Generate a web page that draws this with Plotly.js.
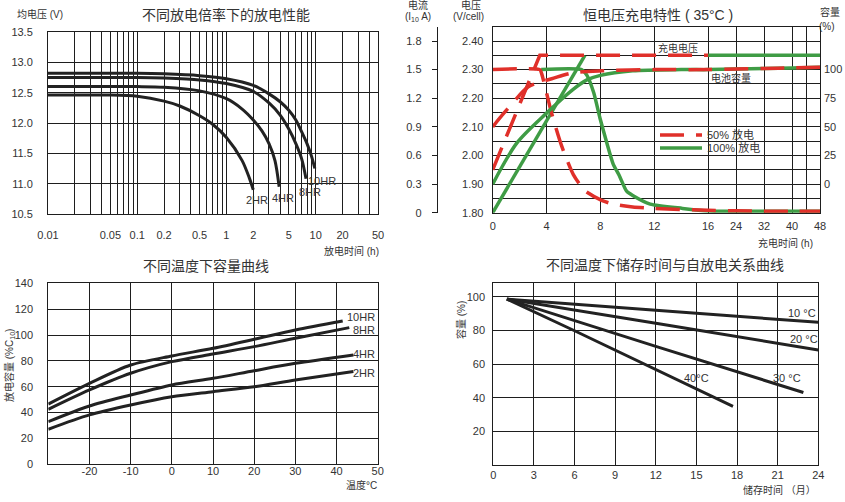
<!DOCTYPE html>
<html><head><meta charset="utf-8">
<script src="https://cdn.plot.ly/plotly-3.0.1.min.js"></script>
<style>html,body{margin:0;padding:0;background:#fff}#chart{width:845px;height:502px}</style>
</head><body><div id="chart"></div>
<script>
// ---------- Chart 1: 不同放电倍率下的放电性能 (log time axis) ----------
const hr10Time = [0.01, 0.1, 0.2, 0.5, 1, 2, 3, 4, 5, 6, 7, 8, 9, 9.8];
const hr10Volt = [12.82, 12.82, 12.81, 12.78, 12.73, 12.62, 12.48, 12.35, 12.21, 12.05, 11.85, 11.66, 11.45, 11.25];
const hr8Time = [0.01, 0.1, 0.2, 0.5, 1, 2, 3, 4, 5, 6, 7, 7.8];
const hr8Volt = [12.75, 12.75, 12.74, 12.71, 12.65, 12.52, 12.33, 12.13, 11.9, 11.66, 11.4, 11.08];
const hr4Time = [0.01, 0.1, 0.2, 0.5, 1, 1.5, 2, 2.5, 3, 3.5, 3.9];
const hr4Volt = [12.6, 12.6, 12.59, 12.53, 12.4, 12.23, 12.05, 11.87, 11.66, 11.38, 10.95];
const hr2Time = [0.01, 0.05, 0.1, 0.2, 0.3, 0.5, 0.7, 1, 1.5, 1.8, 2];
const hr2Volt = [12.46, 12.46, 12.44, 12.36, 12.28, 12.12, 11.98, 11.76, 11.38, 11.1, 10.9];
const logLabelVals = [0.01, 0.05, 0.1, 0.2, 0.5, 1, 2, 5, 10, 20, 50];
const logLabels = ['0.01', '0.05', '0.1', '0.2', '0.5', '1', '2', '5', '10', '20', '50'];
const logMinorGrid = [0.02,0.03,0.04,0.06,0.07,0.08,0.09,0.3,0.4,0.6,0.7,0.8,0.9,3,4,6,7,8,9,30,40];
const voltTicks1 = [10.5, 11.0, 11.5, 12.0, 12.5, 13.0, 13.5];

// ---------- Chart 2: 恒电压充电特性 (35°C) ----------
// 50% discharge (red dashed)
const r50VoltT = [0, 3.5, 16];
const r50Volt = [1.95, 2.35, 2.35];
const r50CurT = [0, 3.5, 3.63, 4.38, 5.12, 5.99, 6.85, 8.09, 8.95, 10.4, 12, 16, 24, 32, 40, 48];
const r50Cur = [1.5, 1.5, 1.46, 1.04, 0.70, 0.40, 0.23, 0.13, 0.09, 0.06, 0.045, 0.025, 0.02, 0.015, 0.015, 0.015];
const r50CapT = [0, 0.91, 2.64, 3.5, 4.38, 5.86, 8.09, 12, 16, 24, 32, 40, 48];
const r50Cap = [50, 63, 85, 89, 92, 97, 99, 100, 100, 100.5, 101, 101.5, 102];
// 100% discharge (green solid)
const g100VoltT = [0, 6.85, null, 16, 48];
const g100Volt = [1.80, 2.35, null, 2.35, 2.35];
const g100CurT = [3.6, 6.6, 7.0, 7.5, 7.97, 8.5, 8.95, 9.4, 9.95, 10.4, 11.7, 14.1, 16, 24, 32, 40, 48];
const g100Cur = [1.5, 1.5, 1.44, 1.26, 0.99, 0.72, 0.51, 0.39, 0.225, 0.18, 0.09, 0.045, 0.018, 0.015, 0.015, 0.015, 0.015];
const g100CapT = [0, 1.8, 4, 6, 7, 8, 10.4, 14, 16, 24, 32, 40, 48];
const g100Cap = [0, 36, 62, 83, 91, 95, 99, 100, 100, 100.5, 101, 101.5, 102];
const chargeTimeTicks = [0, 4, 8, 12, 16, 24, 32, 40, 48];
const chargeTimeLabels = ['0', '4', '8', '12', '16', '24', '32', '40', '48'];
const chargeTimeMinor = [44];
const cellVoltTicks = [1.80, 1.90, 2.00, 2.10, 2.20, 2.30, 2.40];
const cellVoltLabels = ['1.80', '1.90', '2.00', '2.10', '2.20', '2.30', '2.40'];
const cellVoltMinor = [1.85, 1.95, 2.05, 2.15, 2.25, 2.35];
const currentTicks = [0, 0.3, 0.6, 0.9, 1.2, 1.5, 1.8];
const currentLabels = ['0', '0.3', '0.6', '0.9', '1.2', '1.5', '1.8'];
const capTicks = [0, 25, 50, 75, 100];

// ---------- Chart 3: 不同温度下容量曲线 ----------
const tempC = [-30, -20, -10, 0, 10, 20, 30];
const cap10HR = [46.6, 62.6, 76.8, 83.8, 89.7, 96.7, 103.9];
const cap8HR = [42.5, 57.5, 70.4, 79.4, 85.3, 91.0, 97.5];
const cap4HR = [33.0, 45.1, 53.6, 61.4, 66.5, 72.4, 78.1];
const cap2HR = [27.1, 38.2, 45.9, 52.3, 56.2, 60.0, 65.2];
const end10HR = [41.5, 110.9], end8HR = [43.1, 105.7], end4HR = [44.1, 84.6], end2HR = [44.1, 71.7];
const tempTicks = [-20, -10, 0, 10, 20, 30, 40, 50];
const tempLabels = ['-20', '-10', '0', '10', '20', '30', '40', '50'];

// ---------- Chart 4: 不同温度下储存时间与自放电关系曲线 ----------
const s10Month = [1, 12, 24], s10Cap = [98.6, 92.0, 84.8];
const s20Month = [1, 12, 24], s20Cap = [98.6, 84.2, 68.4];
const s30Month = [1, 12, 22.9], s30Cap = [98.6, 70.5, 43.1];
const s40Month = [1, 6, 17.7], s40Cap = [98.6, 79.8, 34.8];
const storeTicks = [0, 3, 6, 9, 12, 15, 18, 21, 24];
const storeCapTicks = [20, 40, 60, 80, 100];

// ---------- helpers ----------
const W = 845, H = 502;
const px = x => x / W, py = y => 1 - y / H;
const COMPRESS = 3.85;   // time axis after 16h is compressed
const tpos = t => (t === null ? null : (t <= 16 ? t : 16 + (t - 16) / COMPRESS));
const FONT = 'Liberation Sans, Arial, "Noto Sans CJK SC", sans-serif';
const INK = '#1e1e1e', TXT = '#333';
const RED = '#e0302a', GREEN = '#3f9c45';

const black = (x, y, xa, ya) => ({x, y, xaxis: xa, yaxis: ya, mode: 'lines', type: 'scatter',
  line: {color: '#222', width: 3, shape: 'spline', smoothing: 0.8}, showlegend: false, hoverinfo: 'skip'});

const traces = [
  black(hr10Time, hr10Volt, 'x', 'y'),
  black(hr8Time, hr8Volt, 'x', 'y'),
  black(hr4Time, hr4Volt, 'x', 'y'),
  black(hr2Time, hr2Volt, 'x', 'y'),
  // chart 2 green first (below red)
  {x: g100VoltT.map(tpos), y: g100Volt, xaxis: 'x2', yaxis: 'y2', mode: 'lines', connectgaps: false,
   line: {color: GREEN, width: 3.5}, showlegend: false},
  {x: g100CurT.map(tpos), y: g100Cur, xaxis: 'x2', yaxis: 'y5', mode: 'lines',
   line: {color: GREEN, width: 3.5, shape: 'spline', smoothing: 0.6}, showlegend: false},
  {x: g100CapT.map(tpos), y: g100Cap, xaxis: 'x2', yaxis: 'y7', mode: 'lines',
   line: {color: GREEN, width: 3.5, shape: 'spline', smoothing: 0.8}, name: '100% 放电', showlegend: true, legend: 'legend2'},
  {x: r50VoltT.map(tpos), y: r50Volt, xaxis: 'x2', yaxis: 'y2', mode: 'lines',
   line: {color: RED, width: 3.5, dash: '24px,12px'}, showlegend: false},
  {x: r50CurT.map(tpos), y: r50Cur, xaxis: 'x2', yaxis: 'y5', mode: 'lines',
   line: {color: RED, width: 3.5, dash: '24px,12px', shape: 'spline', smoothing: 0.6}, showlegend: false},
  {x: r50CapT.map(tpos), y: r50Cap, xaxis: 'x2', yaxis: 'y7', mode: 'lines',
   line: {color: RED, width: 3.5, dash: '24px,12px', shape: 'spline', smoothing: 0.8}, name: '50% 放电', showlegend: true, legend: 'legend'},
  // chart 3
  black(tempC.concat([end10HR[0]]), cap10HR.concat([end10HR[1]]), 'x3', 'y3'),
  black(tempC.concat([end8HR[0]]), cap8HR.concat([end8HR[1]]), 'x3', 'y3'),
  black(tempC.concat([end4HR[0]]), cap4HR.concat([end4HR[1]]), 'x3', 'y3'),
  black(tempC.concat([end2HR[0]]), cap2HR.concat([end2HR[1]]), 'x3', 'y3'),
  // chart 4
  black(s10Month, s10Cap, 'x4', 'y4'),
  black(s20Month, s20Cap, 'x4', 'y4'),
  black(s30Month, s30Cap, 'x4', 'y4'),
  black(s40Month, s40Cap, 'x4', 'y4'),
];

const base = {showgrid: true, gridcolor: INK, gridwidth: 1, showline: true, linecolor: INK, linewidth: 1,
  mirror: true, zeroline: false, ticks: '', tickfont: {size: 11, color: TXT, family: FONT}, fixedrange: true};
const minorGrid = vals => ({tickmode: 'array', tickvals: vals, showgrid: true, gridcolor: INK, gridwidth: 1, ticks: ''});

const layout = {
  width: W, height: H, margin: {l: 0, r: 0, t: 0, b: 0},
  paper_bgcolor: '#fff', plot_bgcolor: 'rgba(0,0,0,0)',
  font: {family: FONT, color: TXT, size: 11},
  showlegend: true,
  legend: {x: px(655), y: py(135), xanchor: 'left', yanchor: 'middle', bgcolor: 'rgba(0,0,0,0)',
    itemwidth: 42, font: {size: 11, color: TXT}, borderwidth: 0, tracegroupgap: 0},
  legend2: {x: px(655), y: py(148), xanchor: 'left', yanchor: 'middle', bgcolor: 'rgba(0,0,0,0)',
    itemwidth: 42, font: {size: 11, color: TXT}, borderwidth: 0, tracegroupgap: 0},
  // chart 1
  xaxis: Object.assign({}, base, {type: 'log', domain: [px(48), px(378)], anchor: 'y',
    range: [Math.log10(0.01), Math.log10(50)], tickmode: 'array', tickvals: logLabelVals,
    ticktext: logLabels, ticklabelstandoff: 11, minor: minorGrid(logMinorGrid)}),
  yaxis: Object.assign({}, base, {domain: [py(214), py(32)], anchor: 'x', range: [10.5, 13.5],
    tickmode: 'array', tickvals: voltTicks1, ticktext: voltTicks1.map(v => v.toFixed(1)), ticklabelstandoff: 12}),
  // chart 2
  xaxis2: Object.assign({}, base, {domain: [px(492.7), px(820)], anchor: 'y2',
    range: [0, tpos(48)], tickmode: 'array', tickvals: chargeTimeTicks.map(tpos), ticktext: chargeTimeLabels,
    ticklabelstandoff: 3, minor: minorGrid(chargeTimeMinor.map(tpos))}),
  yaxis2: Object.assign({}, base, {domain: [py(212.7), py(26.7)], anchor: 'x2', range: [1.80, 2.45],
    tickmode: 'array', tickvals: cellVoltTicks, ticktext: cellVoltLabels, ticklabelstandoff: 6,
    minor: minorGrid(cellVoltMinor)}),
  yaxis5: {overlaying: 'y2', anchor: 'free', position: px(436.7), side: 'left', range: [0, 1.95],
    tickmode: 'array', tickvals: currentTicks, ticktext: currentLabels, showgrid: false, zeroline: false,
    showline: true, linecolor: INK, linewidth: 1, ticks: 'outside', ticklen: 5, tickcolor: INK, tickwidth: 1,
    tickfont: {size: 11, color: TXT}, ticklabelstandoff: 8, fixedrange: true},
  yaxis6: {overlaying: 'y2', anchor: 'free', position: px(436.7), side: 'left', range: [0, 1.95],
    tickmode: 'array', tickvals: currentTicks, showticklabels: false, showgrid: false, zeroline: false,
    showline: false, ticks: 'inside', ticklen: 5, tickcolor: INK, tickwidth: 1, fixedrange: true},
  yaxis7: {overlaying: 'y2', anchor: 'x2', side: 'right', range: [-25, 137.5], tickmode: 'array',
    tickvals: capTicks, ticktext: capTicks.map(String), showgrid: false, zeroline: false, showline: false,
    ticks: '', tickfont: {size: 11, color: TXT}, ticklabelstandoff: 3, fixedrange: true},
  // chart 3
  xaxis3: Object.assign({}, base, {domain: [px(48.3), px(377.7)], anchor: 'y3', range: [-30, 50],
    tickmode: 'array', tickvals: tempTicks, ticktext: tempLabels, ticklabelstandoff: -4}),
  yaxis3: Object.assign({}, base, {domain: [py(464.3), py(283.3)], anchor: 'x3', range: [0, 140],
    dtick: 20, ticklabelstandoff: 12}),
  // chart 4
  xaxis4: Object.assign({}, base, {domain: [px(493.3), px(818.3)], anchor: 'y4', range: [0, 24],
    tickmode: 'array', tickvals: storeTicks, ticktext: storeTicks.map(String), ticklabelstandoff: 0}),
  yaxis4: Object.assign({}, base, {domain: [py(465), py(283.3)], anchor: 'x4', range: [0, 108],
    tickmode: 'array', tickvals: storeCapTicks, ticktext: storeCapTicks.map(String), ticklabelstandoff: 5}),
  annotations: []
};

function ann(text, x, y, opt) {
  layout.annotations.push(Object.assign({text, x: px(x), y: py(y), xref: 'paper', yref: 'paper',
    showarrow: false, xanchor: 'center', yanchor: 'middle', font: {size: 11, color: TXT}}, opt || {}));
}
// titles
ann('不同放电倍率下的放电性能', 226, 15, {font: {size: 14, color: TXT}});
ann('恒电压充电特性 ( 35°C )', 658, 15, {font: {size: 14, color: TXT}});
ann('不同温度下容量曲线', 206, 266, {font: {size: 14, color: TXT}});
ann('不同温度下储存时间与自放电关系曲线', 665, 265, {font: {size: 14, color: TXT}});
// chart 1 texts
ann('均电压 (V)', 15, 14, {xanchor: 'left', font: {size: 10, color: TXT}});
ann('放电时间 (h)', 381, 251, {xanchor: 'right', font: {size: 10, color: TXT}});
ann('2HR', 257, 200); ann('4HR', 283, 198); ann('8HR', 310, 192); ann('10HR', 322, 181);
// chart 2 texts
ann('电流', 418, 5, {font: {size: 10, color: TXT}});
ann('(I<sub>10</sub> A)', 418, 17, {font: {size: 10, color: TXT}});
ann('电压', 471, 5, {font: {size: 10, color: TXT}});
ann('(V/cell)', 468, 17, {font: {size: 10, color: TXT}});
ann('容量', 830, 12, {font: {size: 10, color: TXT}});
ann('(%)', 827, 27, {font: {size: 10, color: TXT}});
ann('充电电压', 678, 48, {font: {size: 10, color: TXT}});
ann('电池容量', 731, 78, {font: {size: 10, color: TXT}});
ann('充电时间 (h)', 815, 243, {xanchor: 'right', font: {size: 10, color: TXT}});
// chart 3 texts
ann('放电容量 (%C<sub>10</sub>)', 9, 366, {textangle: -90, font: {size: 10, color: TXT}});
ann('温度°C', 379, 485, {xanchor: 'right', font: {size: 10, color: TXT}});
ann('10HR', 361, 317); ann('8HR', 364, 330); ann('4HR', 364, 354); ann('2HR', 364, 373);
// chart 4 texts
ann('容量 (%)', 461, 320, {textangle: -90, font: {size: 10, color: TXT}});
ann('储存时间 （月）', 818, 490, {xanchor: 'right', font: {size: 10, color: TXT}});
ann('10 °C', 802, 313); ann('20 °C', 804, 339); ann('30 °C', 787, 378); ann('40°C', 696, 378);

Plotly.newPlot('chart', traces, layout, {staticPlot: true, displayModeBar: false});
</script></body></html>
